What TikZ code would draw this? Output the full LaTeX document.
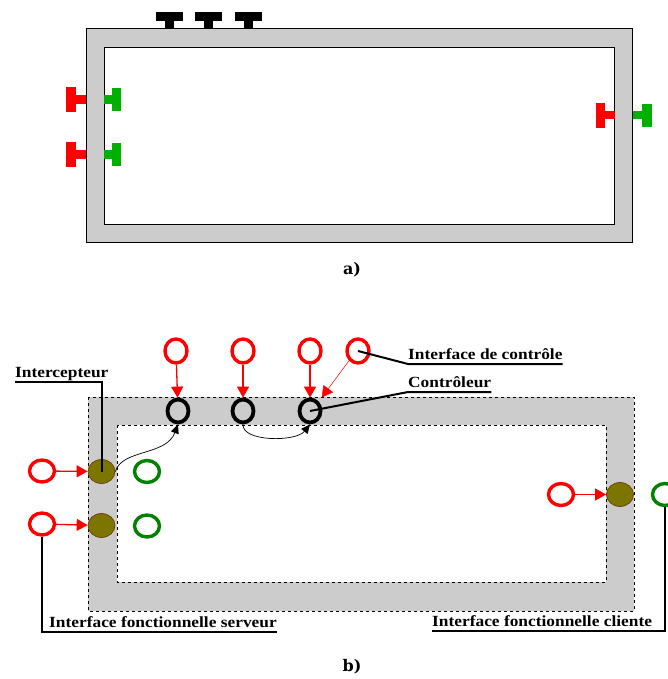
\documentclass[tikz,border=0pt]{standalone}
\usepackage{fontspec}
\setmainfont{Liberation Serif}
\newfontfamily\lblfont[FakeStretch=1.12]{Liberation Serif}
\newfontfamily\capfont{DejaVu Serif}
\usetikzlibrary{arrows.meta,shapes.geometric,positioning}
\definecolor{wallgray}{RGB}{204,204,204}
\definecolor{portgreen}{RGB}{0,176,0}
\definecolor{darkgreen}{RGB}{0,130,0}
\definecolor{icptolive}{RGB}{124,118,0}
\definecolor{icptbrown}{RGB}{115,60,10}

\begin{document}
\begin{tikzpicture}[
  x=1pt, y=-1pt,
  port/.style={ellipse, draw, line width=3.4pt, inner sep=0pt,
    minimum width=25pt, minimum height=22pt},
  redport/.style={port, draw=red},
  topport/.style={redport, minimum width=22pt, minimum height=24pt},
  greenport/.style={port, draw=darkgreen},
  ctrl/.style={port, draw=black, line width=3.8pt, minimum width=21pt, minimum height=23pt},
  icpt/.style={ellipse, fill=icptolive, draw=icptbrown, line width=0.7pt,
    inner sep=0pt, minimum width=27pt, minimum height=24pt},
  redarr/.style={-{Triangle[length=11pt,width=12pt]}, red, line width=1.3pt},
  curvarr/.style={-{Triangle[length=9pt,width=8pt]}, black, line width=0.7pt},
  leader/.style={black, line width=2pt},
  lbl/.style={font=\lblfont\bfseries\fontsize{15.5}{18}\selectfont,
    inner sep=0pt, text depth=4.5pt, anchor=south west},
  caption/.style={font=\capfont\bfseries\fontsize{16}{18}\selectfont, inner sep=0pt}
]
\useasboundingbox (0,0) rectangle (667,679);

% a)
\filldraw[fill=wallgray, draw=black, line width=1pt] (86,29) rectangle (632,242);
\filldraw[fill=white, draw=black, line width=1pt] (104,48) rectangle (614,224);
\foreach \x in {169,208,248} {
  \fill (\x-13.5,12) rectangle (\x+13.5,21);
  \fill (\x-4.5,21) rectangle (\x+4.5,29.5);
}
\foreach \y in {99.5,154.5} {
  \fill[red] (66,\y-12.5) rectangle (76,\y+12.5);
  \fill[red] (76,\y-4.5) rectangle (86,\y+4.5);
  \fill[portgreen] (104,\y-4.5) rectangle (112,\y+4.5);
  \fill[portgreen] (112,\y-11.5) rectangle (121,\y+11.5);
}
\fill[red] (596,103) rectangle (605,128);
\fill[red] (605,111) rectangle (615,119.5);
\fill[portgreen] (633,111) rectangle (642,119.5);
\fill[portgreen] (642,104) rectangle (652,127);
\node[caption] (capa) at (352,270) {a)};

% b)
\filldraw[fill=wallgray, draw=black, dashed, line width=0.7pt] (88,397) rectangle (634,611);
\filldraw[fill=white, draw=black, dashed, line width=0.7pt] (117,425) rectangle (606,582);

\node[ctrl] (c1) at (178,411) {};
\node[ctrl] (c2) at (243,411) {};
\node[ctrl] (c3) at (310,411) {};
\node[topport] (t1) at (176,351) {};
\node[topport] (t2) at (243,351) {};
\node[topport] (t3) at (310,351) {};
\node[topport] (t4) at (358,351) {};

\node[icpt] (i1) at (101.5,471.5) {};
\node[icpt] (i2) at (101.5,525.5) {};
\node[icpt] (i3) at (620,494.5) {};
\node[redport] (s1) at (42,471) {};
\node[redport] (s2) at (42,524) {};
\node[redport] (s3) at (561,494.5) {};
\node[greenport] (g1) at (147,471.5) {};
\node[greenport] (g2) at (147,526) {};
\node[greenport] (g3) at (665,494.5) {};

\draw[redarr] (t1) -- (c1);
\draw[redarr] (t2) -- (c2);
\draw[redarr] (t3) -- (c3);
\draw[redarr, line width=0.5pt, shorten >=5pt] (t4.south west) -- (c3.north east);
\draw[redarr] (s1) -- (i1);
\draw[redarr] (s2) -- (i2);
\draw[redarr] (s3) -- (i3);

\draw[curvarr] (i1.east) .. controls (122,449) and (166,456) .. (c1.south);
\draw[curvarr] (c2.south) .. controls (242,442) and (296,442) .. (c3.south);

\node[lbl] (lblI) at (15,382) {Intercepteur};
\node[lbl] (lblC) at (408,364) {Interface de contrôle};
\node[lbl] (lblK) at (408,392) {Contrôleur};
\node[lbl] (lblS) at (49,632) {Interface fonctionnelle serveur};
\node[lbl] (lblL) at (432,631) {Interface fonctionnelle cliente};

\draw[leader] (lblI.south west) -| (i1.center);
\draw[leader] (t4.center) -- (lblC.south west) -- (lblC.south east);
\draw[leader] (c3.center) -- (lblK.south west) -- (lblK.south east);
\draw[leader] (s2.south) |- (lblS.south east);
\draw[leader] (lblL.south west) -| (g3.south);

\node[caption] (capb) at (352,667) {b)};
\end{tikzpicture}
\end{document}
